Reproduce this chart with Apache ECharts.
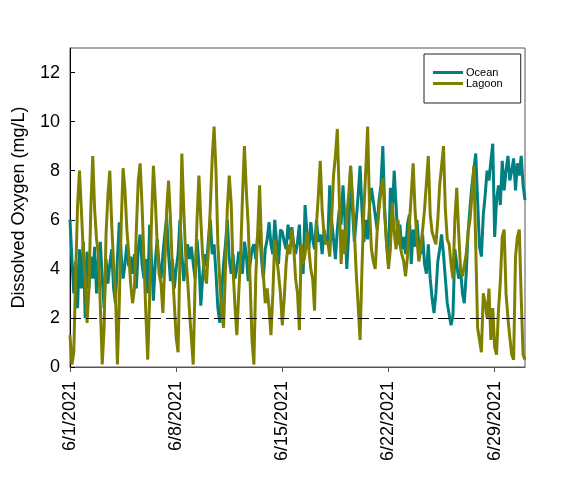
<!DOCTYPE html>
<html>
<head>
<meta charset="utf-8">
<script src="https://cdn.jsdelivr.net/npm/echarts@6/dist/echarts.min.js"></script>
<style>
  html, body { margin: 0; padding: 0; background: #fff; }
  #chart { width: 565px; height: 488px; }
</style>
</head>
<body>
<div id="chart"></div>
<script>
// readings every 3 hours starting 6/1/2021 00:00, one row per day
var startDate = new Date(2021, 5, 1);
var stepHours = 3;
var dateTicks = [0, 7, 14, 21, 28];

var ocean = [
    6.0, 4.4, 3.0, 4.3, 2.4, 4.8, 3.2, 5.1,
    2.0, 4.7, 3.2, 4.5, 3.6, 4.9, 3.0, 4.4,
    5.1, 3.6, 2.4, 4.4, 3.4, 4.2, 4.8, 3.2,
    2.6, 4.4, 5.9, 4.6, 3.6, 4.2, 5.0, 4.1,
    4.5, 3.8, 4.6, 3.2, 4.8, 5.4, 4.2, 3.6,
    4.4, 3.0, 5.8, 4.4, 2.7, 4.3, 5.2, 4.1,
    3.6, 4.6, 5.4, 6.1, 4.6, 3.5, 4.4, 3.2,
    4.0, 4.6, 6.0, 4.6, 3.5, 4.2, 5.0, 4.4,
    4.9, 4.2, 3.6, 5.2, 4.2, 2.5, 3.7, 4.6,
    4.1, 5.2, 6.0, 4.6, 5.0, 3.8, 2.4, 1.8,
    1.8, 4.2, 5.0, 6.0, 4.4, 3.8, 4.6, 3.6,
    4.0, 4.7, 4.4, 3.8, 5.1, 4.6, 3.5, 4.2,
    4.8, 5.0, 4.4, 5.4, 5.6, 4.4, 3.6, 4.8,
    5.2, 5.9, 5.0, 4.6, 6.0, 5.1, 4.2, 5.6,
    5.5, 5.1, 4.8, 5.8, 5.2, 5.7, 5.0, 4.6,
    5.1, 5.8, 4.0, 3.8, 6.6, 5.4, 4.8, 5.9,
    5.2, 4.8, 6.0, 5.1, 5.4, 4.6, 5.6, 5.0,
    5.2, 7.4, 6.0, 5.2, 4.4, 5.6, 6.4, 5.8,
    7.4, 6.0, 4.0, 5.4, 8.2, 6.4, 5.1, 6.0,
    7.0, 8.2, 6.4, 5.1, 6.0, 5.2, 6.6, 7.3,
    7.3, 6.2, 5.6, 6.8, 7.4, 9.0, 6.4, 5.0,
    4.2, 7.3, 6.2, 8.0, 6.6, 5.0, 5.8, 4.8,
    5.3, 4.6, 5.8, 6.2, 4.2, 5.6, 4.9, 6.0,
    5.0, 4.6, 5.4, 4.2, 3.8, 5.0, 3.6, 2.8,
    2.2, 3.0, 4.3, 4.8, 5.4, 4.6, 3.6, 2.6,
    2.6, 1.7, 2.1, 4.8, 4.2, 3.6, 4.0, 3.0,
    2.6, 3.8, 5.5, 6.5, 7.4, 8.0, 8.7, 6.8,
    4.9, 4.5, 6.2, 7.0, 8.0, 7.6, 8.4, 9.1,
    5.3, 6.8, 7.4, 6.6, 8.4, 7.2, 8.0, 8.6,
    7.6, 8.0, 8.5, 7.2, 8.3, 7.8, 8.6, 7.4,
    6.8
];

var lagoon = [
    1.3, 0.1, 0.6, 3.8, 6.6, 8.0, 6.4, 4.7,
    3.6, 1.8, 3.2, 6.5, 8.6, 6.4, 5.2, 4.6,
    2.5, 0.1, 1.6, 5.4, 7.0, 8.0, 5.8, 4.2,
    3.0, 0.1, 2.6, 5.8, 8.1, 7.2, 5.6, 4.6,
    3.4, 2.6, 3.2, 5.6, 7.6, 8.3, 6.6, 4.4,
    2.2, 0.3, 2.8, 6.0, 8.2, 6.8, 5.0, 3.8,
    3.4, 2.2, 4.2, 6.4, 7.6, 6.0, 4.0, 2.6,
    1.2, 0.6, 4.5, 8.7, 6.4, 4.6, 3.6, 2.3,
    2.3, 0.1, 3.5, 6.0, 7.8, 6.0, 4.5, 3.8,
    3.4, 4.8, 6.5, 8.5, 9.8, 8.0, 5.0, 3.5,
    2.3, 1.6, 4.0, 6.5, 7.8, 6.7, 4.0, 2.5,
    1.3, 3.0, 4.5, 7.0, 9.0, 7.2, 5.8, 3.5,
    1.1, 0.1, 3.7, 5.5, 7.4, 5.0, 3.7, 2.6,
    3.2, 2.4, 1.3, 3.0, 5.2, 4.5, 3.8, 3.0,
    1.7, 2.8, 4.2, 5.0, 4.6, 5.6, 4.9, 3.6,
    3.0, 1.5, 5.0, 4.2, 4.6, 5.5, 4.8, 4.0,
    3.6, 2.3, 5.8, 7.0, 8.4, 6.4, 5.4, 5.0,
    5.1, 4.5, 6.0, 7.8, 8.6, 9.7, 7.0, 4.2,
    5.6, 4.6, 6.2, 7.0, 8.2, 7.0, 5.5, 3.8,
    2.5, 1.1, 4.0, 6.4, 8.0, 9.8, 6.4, 4.8,
    4.3, 4.0, 5.5, 6.4, 7.2, 7.7, 6.2, 5.0,
    4.0, 4.8, 6.7, 5.5, 4.8, 6.0, 5.0, 4.6,
    4.3, 3.7, 4.5, 5.8, 7.0, 8.3, 6.4, 5.2,
    4.3, 4.8, 5.6, 6.4, 7.5, 8.6, 6.2, 5.5,
    5.5, 5.0, 6.0, 7.4, 8.2, 9.0, 6.4, 5.2,
    5.0, 4.2, 3.6, 6.0, 7.3, 5.5, 4.0, 3.7,
    3.7, 4.6, 5.5, 6.0, 7.0, 8.2, 5.0, 1.6,
    1.1, 0.6, 3.0, 2.6, 2.0, 3.2, 1.1, 2.4,
    0.8, 0.5, 2.3, 3.5, 5.3, 5.6, 3.0, 2.0,
    1.2, 0.5, 0.3, 4.5, 5.3, 5.6, 2.8, 0.5,
    0.3
];

var limitLine = 2;

function toPoints(vals) {
    var pts = [];
    for (var i = 0; i < vals.length; i++) {
        pts.push([i * stepHours / 24, vals[i]]);
    }
    return pts;
}

function dayLabel(d) {
    var dt = new Date(startDate.getTime() + d * 86400000);
    return (dt.getMonth() + 1) + '/' + dt.getDate() + '/' + dt.getFullYear();
}

var chart = echarts.init(document.getElementById('chart'));
var font = 'Liberation Sans, Arial, sans-serif';

var option = {
    animation: false,
    grid: {
        left: 70, right: 40, top: 48, bottom: 121,
        show: true, borderColor: '#555', borderWidth: 1
    },
    legend: {
        data: ['Ocean', 'Lagoon'],
        orient: 'vertical',
        left: 424, top: 54,
        padding: [13, 18, 14, 9],
        borderColor: '#222', borderWidth: 1,
        itemWidth: 30, itemHeight: 3, itemGap: 0,
        icon: 'rect',
        textStyle: { fontFamily: font, fontSize: 11, lineHeight: 11, color: '#000', padding: [0, 0, 0, -2] }
    },
    xAxis: {
        type: 'value',
        min: 0, max: 30, interval: 7,
        axisLine: { lineStyle: { color: '#555', width: 1 } },
        axisTick: { inside: false, length: 5, lineStyle: { color: '#555' } },
        splitLine: { show: false },
        axisLabel: {
            rotate: 90, margin: 14, fontFamily: font, fontSize: 18, color: '#000',
            showMaxLabel: false,
            formatter: function (v) {
                return dateTicks.indexOf(v) >= 0 ? dayLabel(v) : '';
            }
        }
    },
    yAxis: {
        type: 'value',
        min: 0, max: 13, interval: 2,
        name: 'Dissolved Oxygen (mg/L)',
        nameLocation: 'middle', nameGap: 42,
        nameTextStyle: { fontFamily: font, fontSize: 18, color: '#000' },
        axisLine: { show: true, lineStyle: { color: '#000', width: 1 } },
        axisTick: { inside: true, length: 5, lineStyle: { color: '#000' } },
        splitLine: { show: false },
        axisLabel: { margin: 10, fontFamily: font, fontSize: 18, color: '#000', showMaxLabel: false }
    },
    series: [
        {
            name: 'Ocean', type: 'line', data: toPoints(ocean),
            showSymbol: false, symbol: 'none',
            lineStyle: { color: '#008080', width: 3 },
            itemStyle: { color: '#008080' },
            markLine: {
                silent: true, symbol: 'none', label: { show: false },
                lineStyle: { color: '#000', type: [11, 5], width: 1 },
                data: [{ yAxis: limitLine }]
            }
        },
        {
            name: 'Lagoon', type: 'line', data: toPoints(lagoon),
            showSymbol: false, symbol: 'none',
            lineStyle: { color: '#808000', width: 3 },
            itemStyle: { color: '#808000' }
        }
    ]
};
chart.setOption(option);
</script>
</body>
</html>
